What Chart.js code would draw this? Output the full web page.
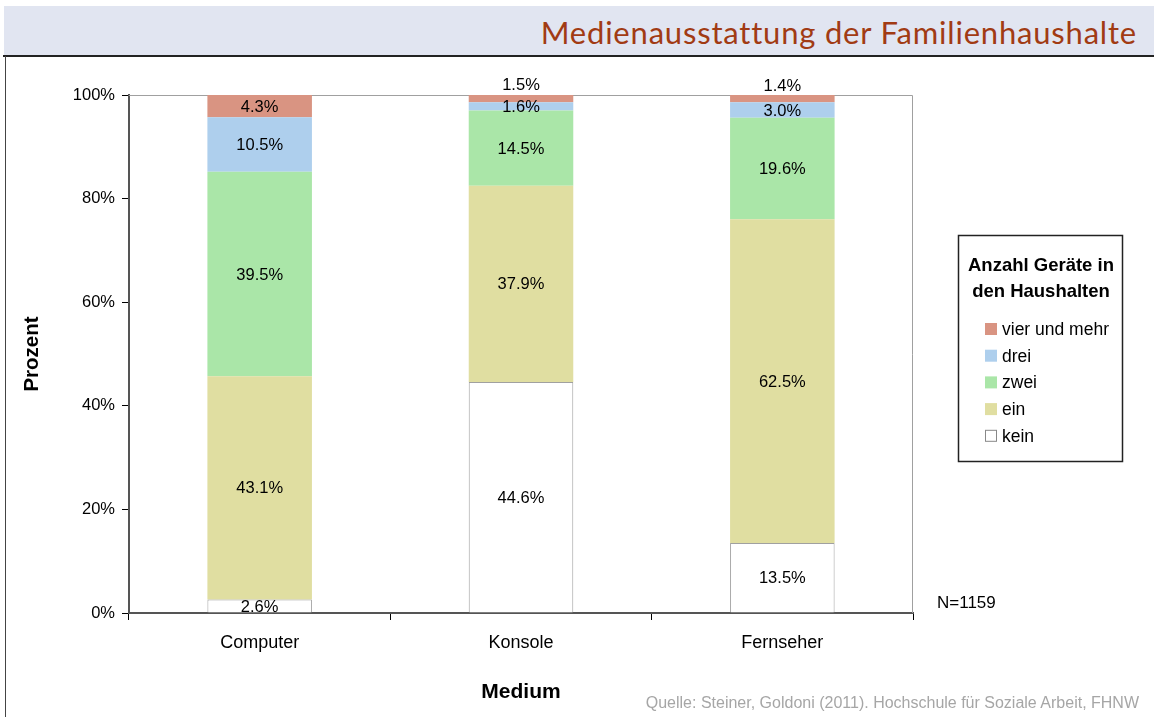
<!DOCTYPE html>
<html>
<head>
<meta charset="utf-8">
<script src="https://cdn.jsdelivr.net/npm/chart.js@4/dist/chart.umd.min.js"></script>
<style>
    html, body { margin: 0; padding: 0; background: #fff; }
    body { width: 1154px; height: 717px; position: relative; overflow: hidden; font-family: "Liberation Sans", Arial, sans-serif; }
    #header { position: absolute; left: 4px; top: 6px; width: 1150px; height: 49px; background: #e1e5f1; }
    #header h1 { position: absolute; right: 17px; top: 7px; margin: 0; font: 400 31px "Lato", "Open Sans", sans-serif; letter-spacing: 0.8px; color: #a13b14; white-space: nowrap; }
    #rule { position: absolute; left: 3px; top: 55px; width: 1151px; height: 2px; background: #222; }
    #leftRule { position: absolute; left: 5px; top: 56px; width: 1px; height: 661px; background: #444; }
    #wrap { position: absolute; left: 0; top: 0; width: 1154px; height: 717px; }
    #source { position: absolute; right: 15px; top: 694px; font-size: 16px; color: #a6a6a6; white-space: nowrap; }
</style>
</head>
<body>
<div id="header"><h1>Medienausstattung der Familienhaushalte</h1></div>
<div id="rule"></div>
<div id="leftRule"></div>
<div id="wrap"><canvas id="chart" width="1154" height="717"></canvas></div>
<div id="source">Quelle: Steiner, Goldoni (2011). Hochschule für Soziale Arbeit, FHNW</div>
<script>
    const categories = ["Computer", "Konsole", "Fernseher"];
    const seriesNames = ["kein", "ein", "zwei", "drei", "vier und mehr"];
    const kein = [2.6, 44.6, 13.5];
    const ein = [43.1, 37.9, 62.5];
    const zwei = [39.5, 14.5, 19.6];
    const drei = [10.5, 1.6, 3.0];
    const vierUndMehr = [4.3, 1.5, 1.4];
    const yTicks = [0, 20, 40, 60, 80, 100];
    const legendTitle = ["Anzahl Geräte in", "den Haushalten"];
    const sampleNote = "N=1159";

    const colors = ["#ffffff", "#e0dea1", "#aae6a8", "#aecfed", "#d99482"];
    const seriesValues = [kein, ein, zwei, drei, vierUndMehr];

    const FONT = "'Liberation Sans', Arial, sans-serif";

    // plot frame (top + right lines)
    const frame = {
        id: "frame",
        beforeDatasetsDraw(chart) {
            const { ctx, chartArea: a } = chart;
            ctx.save();
            ctx.strokeStyle = "#a0a0a0";
            ctx.lineWidth = 1;
            ctx.beginPath();
            ctx.moveTo(a.left, a.top + 0.5);
            ctx.lineTo(a.right - 0.5, a.top + 0.5);
            ctx.lineTo(a.right - 0.5, a.bottom);
            ctx.stroke();
            ctx.restore();
        },
    };

    // value labels in the segments
    const valueLabels = {
        id: "valueLabels",
        afterDatasetsDraw(chart) {
            const { ctx } = chart;
            ctx.save();
            ctx.font = "16.5px " + FONT;
            ctx.fillStyle = "#000";
            ctx.textAlign = "center";
            ctx.textBaseline = "middle";
            const last = chart.data.datasets.length - 1;
            chart.data.datasets.forEach((ds, di) => {
                const meta = chart.getDatasetMeta(di);
                meta.data.forEach((bar, i) => {
                    const v = ds.data[i];
                    const { x, y, base } = bar.getProps(["x", "y", "base"], true);
                    let cy = (y + base) / 2;
                    if (di === last && v < 2) {
                        cy = y - 10;
                    }
                    ctx.fillText(v.toFixed(1) + "%", x, cy + 1);
                });
            });
            ctx.restore();
        },
    };

    // boxed legend with two-line title
    const boxLegend = {
        id: "boxLegend",
        afterDraw(chart) {
            const { ctx } = chart;
            const left = 958, top = 235, w = 164, h = 226;
            ctx.save();
            ctx.fillStyle = "#fff";
            ctx.fillRect(left, top, w, h);
            ctx.strokeStyle = "#222";
            ctx.lineWidth = 1.5;
            ctx.strokeRect(left + 0.5, top + 0.5, w, h);

            ctx.fillStyle = "#000";
            ctx.textAlign = "center";
            ctx.textBaseline = "middle";
            ctx.font = "bold 18.5px " + FONT;
            legendTitle.forEach((line, i) => {
                ctx.fillText(line, left + w / 2 + 1, 266 + i * 26);
            });

            ctx.font = "17.5px " + FONT;
            ctx.textAlign = "left";
            const items = chart.data.datasets.slice().reverse();
            items.forEach((ds, i) => {
                const cy = 329 + i * 26.7;
                ctx.fillStyle = ds.backgroundColor;
                ctx.fillRect(985, cy - 6, 12, 12);
                if (ds.backgroundColor === "#ffffff") {
                    ctx.strokeStyle = "#888";
                    ctx.lineWidth = 1;
                    ctx.strokeRect(985.5, cy - 5.5, 11, 11);
                }
                ctx.fillStyle = "#000";
                ctx.fillText(ds.label, 1002, cy + 1);
            });

            ctx.font = "17px " + FONT;
            ctx.fillText(sampleNote, 937, 603);
            ctx.restore();
        },
    };

    new Chart(document.getElementById("chart"), {
        type: "bar",
        data: {
            labels: categories,
            datasets: seriesValues.map((vals, i) => ({
                label: seriesNames[i],
                data: vals,
                backgroundColor: colors[i],
                borderColor: i === 0 ? "#a0a0a0" : colors[i],
                borderWidth: i === 0 ? 1 : 0,
                categoryPercentage: 1,
                barPercentage: 0.4,
            })),
        },
        options: {
            responsive: false,
            animation: false,
            layout: {
                padding: { left: 20, right: 241, top: 95, bottom: 10 },
            },
            plugins: {
                legend: { display: false },
                tooltip: { enabled: false },
            },
            scales: {
                x: {
                    stacked: true,
                    grid: {
                        offset: true,
                        drawOnChartArea: false,
                        drawTicks: true,
                        tickLength: 7,
                        color: "#000",
                    },
                    border: { display: true, color: "#555", width: 2 },
                    ticks: {
                        color: "#000",
                        padding: 12,
                        font: { family: FONT, size: 18 },
                    },
                    title: {
                        display: true,
                        text: "Medium",
                        color: "#000",
                        font: { family: FONT, size: 21, weight: "bold" },
                        padding: { top: 0, bottom: 2 },
                    },
                    afterFit(scale) {
                        scale.height = 94;
                    },
                },
                y: {
                    stacked: true,
                    min: 0,
                    max: 100,
                    afterBuildTicks(scale) {
                        scale.ticks = yTicks.map((v) => ({ value: v }));
                    },
                    grid: {
                        drawOnChartArea: false,
                        drawTicks: true,
                        tickLength: 7,
                        color: "#000",
                    },
                    border: { display: true, color: "#555", width: 2 },
                    ticks: {
                        color: "#000",
                        padding: 7,
                        font: { family: FONT, size: 16.5 },
                        callback: (v) => v + "%",
                    },
                    title: {
                        display: true,
                        text: "Prozent",
                        color: "#000",
                        font: { family: FONT, size: 20.5, weight: "bold" },
                        padding: 0,
                    },
                    afterFit(scale) {
                        scale.width = 109;
                    },
                },
            },
        },
        plugins: [frame, valueLabels, boxLegend],
    });
</script>
</body>
</html>
